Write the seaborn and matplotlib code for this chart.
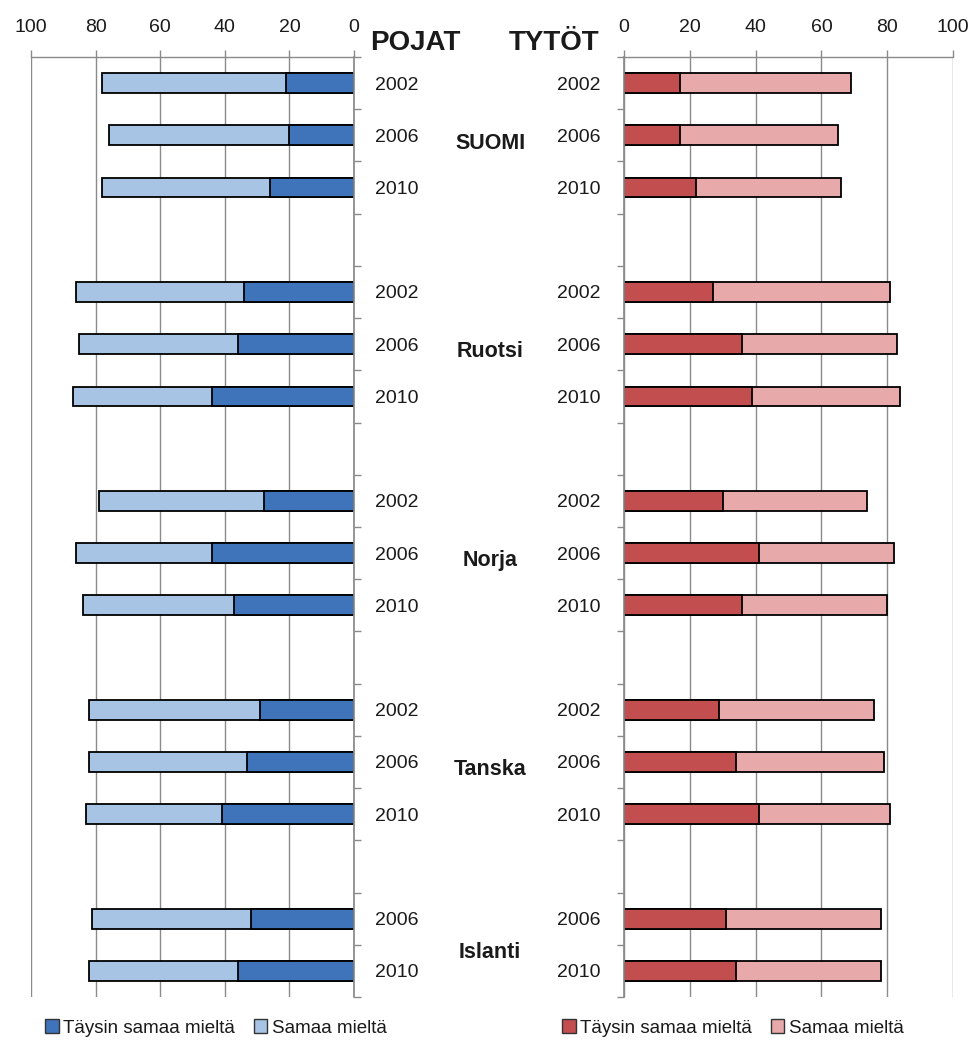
import numpy as np
import pandas as pd
import matplotlib
matplotlib.use("Agg")
import matplotlib.pyplot as plt
import matplotlib.transforms as mtransforms
from matplotlib.patches import Patch
import seaborn as sns

# ---------------- data ----------------
countries = ["SUOMI", "Ruotsi", "Norja", "Tanska", "Islanti"]
years = {
    "SUOMI": ["2002", "2006", "2010"],
    "Ruotsi": ["2002", "2006", "2010"],
    "Norja": ["2002", "2006", "2010"],
    "Tanska": ["2002", "2006", "2010"],
    "Islanti": ["2006", "2010"],
}
# Boys (POJAT): "Täysin samaa mieltä" and "Samaa mieltä"
boys_full = [21, 20, 26, 34, 36, 44, 28, 44, 37, 29, 33, 41, 32, 36]
boys_agree = [57, 56, 52, 52, 49, 43, 51, 42, 47, 53, 49, 42, 49, 46]
# Girls (TYTÖT)
girls_full = [17, 17, 22, 27, 36, 39, 30, 41, 36, 29, 34, 41, 31, 34]
girls_agree = [52, 48, 44, 54, 47, 45, 44, 41, 44, 47, 45, 40, 47, 44]

legend_labels = ["Täysin samaa mieltä", "Samaa mieltä"]
xticks = [0, 20, 40, 60, 80, 100]

# ---------------- styling ----------------
sns.set_theme(style="white")
plt.rcParams["font.family"] = ["Liberation Sans", "DejaVu Sans"]

BLUE_DARK, BLUE_LIGHT = "#3f74ba", "#a8c4e4"
RED_DARK, RED_LIGHT = "#c24e50", "#e7a9aa"
GRID = "#8a8a8a"
TXT = "#1a1a1a"

# build category order (with empty separator slots between countries)
rows = []
order = []
for ci, c in enumerate(countries):
    for y in years[c]:
        order.append(f"{c} {y}")
        rows.append({"slot": f"{c} {y}", "country": c, "year": y})
    if ci < len(countries) - 1:
        order.append(f"gap{ci}")
df = pd.DataFrame(rows)
df["b_full"] = boys_full
df["b_total"] = np.array(boys_full) + np.array(boys_agree)
df["g_full"] = girls_full
df["g_total"] = np.array(girls_full) + np.array(girls_agree)

W, H = 975, 1044
fig = plt.figure(figsize=(W / 100, H / 100), dpi=100)
top_px, bot_px = 57, 997
axL = fig.add_axes([31 / W, 1 - bot_px / H, (354 - 31) / W, (bot_px - top_px) / H])
axR = fig.add_axes([624 / W, 1 - bot_px / H, (953 - 624) / W, (bot_px - top_px) / H])

bw = 0.38
for ax, tot, full, light, dark in [
    (axL, "b_total", "b_full", BLUE_LIGHT, BLUE_DARK),
    (axR, "g_total", "g_full", RED_LIGHT, RED_DARK),
]:
    sns.barplot(data=df, x=tot, y="slot", order=order, orient="h", color=light,
                saturation=1, width=bw, edgecolor="black", linewidth=1.3,
                errorbar=None, ax=ax)
    sns.barplot(data=df, x=full, y="slot", order=order, orient="h", color=dark,
                saturation=1, width=bw, edgecolor="black", linewidth=1.3,
                errorbar=None, ax=ax)
    n = len(order)
    ax.set_ylim(n - 0.5, -0.5)
    ax.set_yticks(np.arange(-0.5, n, 1.0))
    ax.set_yticklabels([])
    ax.set_xticks(xticks)
    ax.set_xlabel("")
    ax.set_ylabel("")
    ax.xaxis.tick_top()
    ax.tick_params(axis="x", which="both", direction="out", length=5, width=1,
                   color=GRID, labelsize=14, labelcolor=TXT, pad=10)
    ax.tick_params(axis="y", direction="out", length=5, width=1, color=GRID)
    ax.grid(axis="x", color=GRID, linewidth=1)
    ax.grid(axis="y", visible=False)
    ax.set_axisbelow(True)
    for s in ax.spines.values():
        s.set_visible(False)
    ax.spines["top"].set_visible(True)
    ax.spines["top"].set_color(GRID)
    ax.spines["top"].set_linewidth(1)

axL.set_xlim(100, 0)
axR.set_xlim(0, 100)
axL.yaxis.tick_right()
axL.spines["right"].set_visible(True)
axL.spines["right"].set_color(GRID)
axR.yaxis.tick_left()
axR.spines["left"].set_visible(True)
axR.spines["left"].set_color(GRID)

# year and country labels between the panels
trL = mtransforms.blended_transform_factory(fig.transFigure, axL.transData)
for ci, c in enumerate(countries):
    pos = [order.index(f"{c} {y}") for y in years[c]]
    for y, p in zip(years[c], pos):
        axL.text(375 / W, p, y, transform=trL, ha="left", va="center_baseline",
                 fontsize=14, color=TXT)
        axL.text(601 / W, p, y, transform=trL, ha="right", va="center_baseline",
                 fontsize=14, color=TXT)
    axL.text(490 / W, np.mean(pos) + 0.1, c, transform=trL, ha="center",
             va="center_baseline", fontsize=15.5, fontweight="bold", color=TXT)

fig.text(370 / W, 1 - 40 / H, "POJAT", ha="left", va="center_baseline", fontsize=20,
         fontweight="bold", color=TXT)
fig.text(599 / W, 1 - 40 / H, "TYTÖT", ha="right", va="center_baseline", fontsize=20,
         fontweight="bold", color=TXT)

# legends
for x0, dark, light in [(36 / W, BLUE_DARK, BLUE_LIGHT), (553 / W, RED_DARK, RED_LIGHT)]:
    handles = [Patch(facecolor=dark, edgecolor="#333333", linewidth=1),
               Patch(facecolor=light, edgecolor="#333333", linewidth=1)]
    fig.legend(handles, legend_labels, loc="center left",
               bbox_to_anchor=(x0, 1 - 1028 / H), ncol=2, frameon=False,
               fontsize=13.5, borderpad=0, handlelength=0.7, handleheight=0.7,
               handletextpad=0.25, columnspacing=1.0, labelcolor=TXT)

fig.savefig("out.png", dpi=100, facecolor="white")
